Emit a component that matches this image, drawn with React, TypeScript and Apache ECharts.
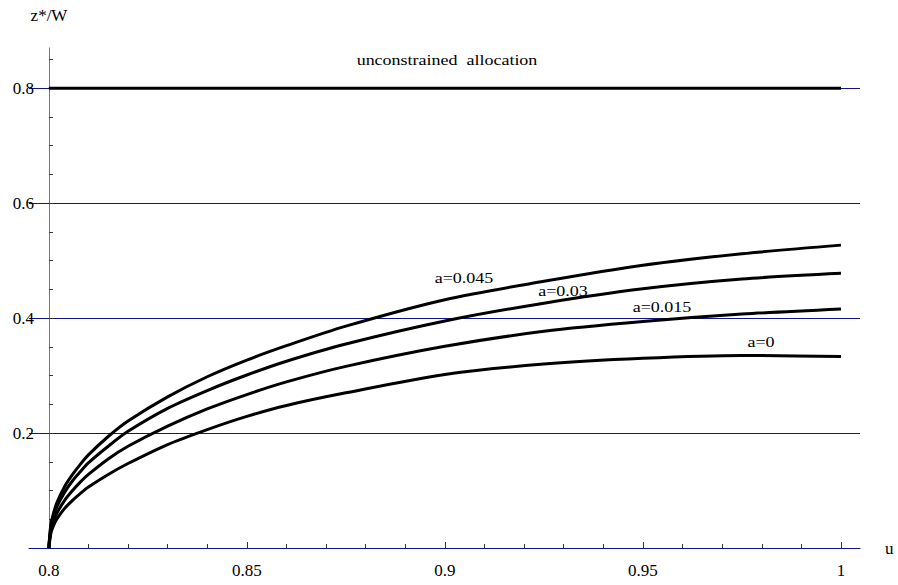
import React, { useEffect, useRef } from "react";
import * as echarts from "echarts";

// ---- data ----
const U_VALUES = [0.8, 0.8005, 0.801, 0.802, 0.804, 0.806, 0.808, 0.81, 0.815, 0.82, 0.83, 0.84, 0.85, 0.86, 0.875, 0.9, 0.925, 0.95, 0.975, 1.0];
const CURVE_A045 = [0, 0.04, 0.056, 0.078, 0.107, 0.128, 0.146, 0.162, 0.194, 0.221, 0.263, 0.298, 0.327, 0.352, 0.386, 0.432, 0.464, 0.492, 0.512, 0.527];
const CURVE_A030 = [0, 0.036, 0.051, 0.071, 0.097, 0.117, 0.133, 0.148, 0.177, 0.203, 0.243, 0.274, 0.301, 0.325, 0.355, 0.395, 0.426, 0.451, 0.468, 0.478];
const CURVE_A015 = [0, 0.03, 0.043, 0.06, 0.083, 0.1, 0.115, 0.128, 0.155, 0.177, 0.212, 0.242, 0.267, 0.289, 0.316, 0.351, 0.377, 0.394, 0.407, 0.416];
const CURVE_A000 = [0, 0.025, 0.036, 0.05, 0.069, 0.083, 0.095, 0.106, 0.128, 0.147, 0.18, 0.206, 0.229, 0.248, 0.27, 0.302, 0.32, 0.33, 0.335, 0.333];
const UNCONSTRAINED_U = [0.8, 1.0];
const UNCONSTRAINED_Z = [0.8, 0.8];

const X_LABELS = [0.8, 0.85, 0.9, 0.95, 1];
const X_MINOR_TICKS = [0.81, 0.82, 0.83, 0.84, 0.86, 0.87, 0.88, 0.89, 0.91, 0.92, 0.93, 0.94, 0.96, 0.97, 0.98, 0.99];
const X_MAJOR_TICKS = [0.85, 0.9, 0.95, 1];
const Y_LABELS = [0.2, 0.4, 0.6, 0.8];
const Y_TICKS = [0.05, 0.1, 0.15, 0.2, 0.25, 0.3, 0.35, 0.4, 0.45, 0.5, 0.55, 0.6, 0.65, 0.7, 0.75, 0.8, 0.85];

const CURVE_NAMES = ["a=0.045", "a=0.03", "a=0.015", "a=0"];

const FONT = "Liberation Serif";
const NAVY = "#14148a";

export default function App() {
  const ref = useRef<HTMLDivElement>(null);

  useEffect(() => {
    if (!ref.current) return;
    const chart = echarts.init(ref.current, undefined, { renderer: "svg" });

    const zip = (ys: number[]) => U_VALUES.map((u, i) => [u, ys[i]]);
    const curves = [CURVE_A045, CURVE_A030, CURVE_A015, CURVE_A000];

    const curveSeries = curves.map((ys, i) => ({
      type: "line",
      name: CURVE_NAMES[i],
      xAxisIndex: 0,
      yAxisIndex: 0,
      data: zip(ys),
      showSymbol: false,
      smooth: 0.3,
      lineStyle: { color: "#000", width: 3 },
      z: 3,
    }));

    const labelText = (text: string, x: number, y: number) => ({
      type: "text",
      x,
      y,
      scaleX: 1.2,
      style: {
        text,
        fontFamily: FONT,
        fontSize: 15,
        fill: "#000",
        textAlign: "center",
        textVerticalAlign: "middle",
      },
    });

    chart.setOption({
      animation: false,
      backgroundColor: "#fff",
      textStyle: { fontFamily: FONT },
      grid: { left: 29, right: 38, top: 48, bottom: 37, containLabel: false },
      xAxis: [
        {
          type: "value",
          min: 0.795,
          max: 1.0048,
          position: "bottom",
          name: "u",
          nameLocation: "end",
          nameGap: 25,
          nameTextStyle: { fontFamily: FONT, fontSize: 17, color: "#000", verticalAlign: "middle" },
          axisLine: { show: true, onZero: false, lineStyle: { color: NAVY, width: 1 } },
          axisTick: { show: true, inside: true, length: 6, customValues: X_MAJOR_TICKS, lineStyle: { color: "#333" } },
          axisLabel: {
            show: true,
            customValues: X_LABELS,
            margin: 14,
            fontFamily: FONT,
            fontSize: 17,
            color: "#000",
            formatter: (v: number) => String(Number(v.toFixed(3))),
          },
          splitLine: { show: false },
        },
        {
          type: "value",
          min: 0.795,
          max: 1.0048,
          position: "bottom",
          axisLine: { show: false },
          axisTick: { show: true, inside: true, length: 4, customValues: X_MINOR_TICKS, lineStyle: { color: "#333" } },
          axisLabel: { show: false },
          splitLine: { show: false },
        },
      ],
      yAxis: [
        {
          type: "value",
          min: 0,
          max: 0.87,
          interval: 0.2,
          position: "left",
          offset: -6,
          axisLine: { show: false, onZero: false },
          axisTick: { show: false },
          axisLabel: {
            show: true,
            customValues: Y_LABELS,
            margin: 1,
            fontFamily: FONT,
            fontSize: 17,
            color: "#000",
            formatter: (v: number) => String(Number(v.toFixed(2))),
          },
          splitLine: { show: true, showMinLine: false, showMaxLine: false, lineStyle: { color: NAVY, width: 1 } },
        },
        {
          type: "value",
          min: 0,
          max: 0.87,
          position: "left",
          offset: -20,
          name: "z*/W",
          nameLocation: "end",
          nameGap: 24,
          nameTextStyle: { fontFamily: FONT, fontSize: 17, color: "#000" },
          axisLine: { show: true, onZero: false, lineStyle: { color: "#777", width: 1 } },
          axisTick: { show: true, inside: true, length: 4, customValues: Y_TICKS, lineStyle: { color: "#333" } },
          axisLabel: { show: false },
          splitLine: { show: false },
        },
      ],
      series: [
        {
          type: "line",
          name: "unconstrained allocation",
          xAxisIndex: 0,
          yAxisIndex: 0,
          data: UNCONSTRAINED_U.map((u, i) => [u, UNCONSTRAINED_Z[i]]),
          showSymbol: false,
          lineStyle: { color: "#000", width: 3 },
          z: 3,
        },
        ...curveSeries,
      ],
      graphic: [
        labelText("unconstrained  allocation", 447, 60),
        labelText(CURVE_NAMES[0], 464, 278),
        labelText(CURVE_NAMES[1], 563, 291),
        labelText(CURVE_NAMES[2], 662, 307),
        labelText(CURVE_NAMES[3], 761, 342),
      ],
    });

    return () => chart.dispose();
  }, []);

  return (
    <div
      ref={ref}
      style={{ position: "fixed", left: 0, top: 0, width: 898, height: 585, background: "#fff" }}
    />
  );
}
